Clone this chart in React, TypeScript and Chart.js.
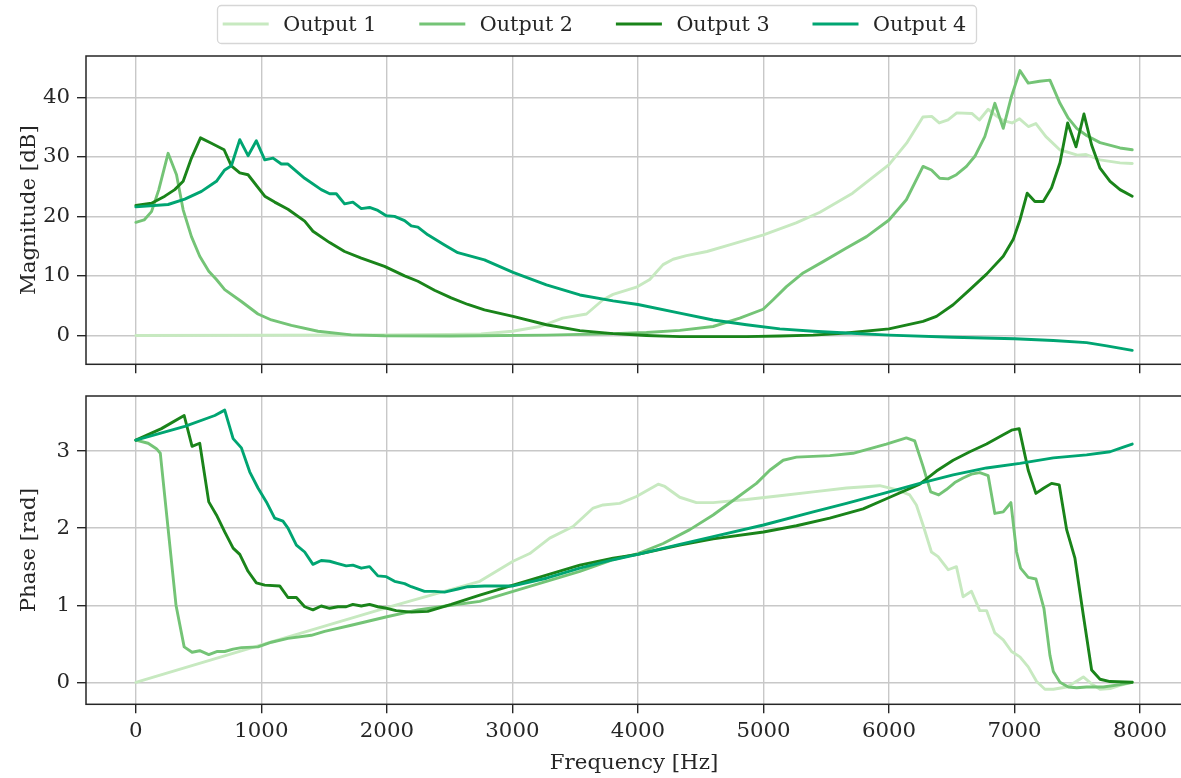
import React, { useEffect, useRef } from 'react';
import { Chart, registerables } from 'chart.js';

Chart.register(...registerables);

// ---------- DATA ----------
const seriesNames = ['Output 1', 'Output 2', 'Output 3', 'Output 4'];
const seriesColors = ['#c7e9c0', '#74c476', '#1a841a', '#00a572'];
const xTicks = [0, 1000, 2000, 3000, 4000, 5000, 6000, 7000, 8000];
const magTicks = [0, 10, 20, 30, 40];
const phaseTicks = [0, 1, 2, 3];

// Magnitude [dB]
const magFreq1 = [0, 1000, 2000, 2500, 2750, 3000, 3220, 3400, 3590, 3722, 3802, 3988, 4094, 4200, 4280, 4386, 4550, 4730, 5000, 5260, 5450, 5710, 6000, 6140, 6270, 6340, 6400, 6470, 6540, 6660, 6720, 6790, 6860, 6910, 6980, 7040, 7110, 7170, 7250, 7360, 7500, 7570, 7680, 7840, 7937.5];
const magOut1 = [0, 0.02, 0.1, 0.15, 0.25, 0.7, 1.5, 2.9, 3.6, 6.0, 6.9, 8.1, 9.4, 11.9, 12.8, 13.4, 14.1, 15.2, 16.9, 18.9, 20.7, 23.9, 28.7, 32.3, 36.7, 36.8, 35.7, 36.2, 37.4, 37.3, 36.2, 38.0, 36.8, 36.1, 35.7, 36.4, 35.1, 35.6, 33.4, 31.2, 30.3, 30.4, 29.5, 29.0, 28.9];

const magFreq2 = [0, 66, 125, 183, 257, 324, 377, 443, 509, 581, 642, 708, 841, 973, 1080, 1239, 1451, 1716, 1981, 2500, 2740, 3271, 3802, 4068, 4333, 4599, 4811, 4997, 5077, 5183, 5316, 5475, 5661, 5821, 6000, 6138, 6271, 6338, 6404, 6471, 6537, 6617, 6684, 6763, 6843, 6910, 6976, 7043, 7109, 7200, 7282, 7362, 7428, 7495, 7574, 7681, 7840, 7937.5];
const magOut2 = [19.0, 19.4, 20.8, 24.5, 30.6, 27.0, 21.1, 16.6, 13.3, 10.8, 9.4, 7.7, 5.7, 3.6, 2.6, 1.7, 0.7, 0.1, -0.05, -0.1, -0.05, 0.05, 0.3, 0.5, 0.85, 1.5, 2.9, 4.4, 6.0, 8.2, 10.5, 12.4, 14.7, 16.6, 19.4, 22.8, 28.4, 27.8, 26.4, 26.3, 27.0, 28.4, 30.1, 33.4, 39.0, 34.8, 40.2, 44.5, 42.4, 42.7, 42.9, 39.0, 36.5, 34.8, 33.6, 32.4, 31.5, 31.2];

const magFreq3 = [0, 125, 231, 310, 377, 443, 515, 602, 703, 761, 828, 894, 1027, 1106, 1212, 1345, 1411, 1544, 1663, 1796, 1981, 2141, 2247, 2379, 2512, 2645, 2777, 3005, 3271, 3537, 3802, 4068, 4333, 4600, 4865, 5130, 5396, 5661, 6000, 6271, 6378, 6511, 6644, 6777, 6910, 6989, 7043, 7101, 7162, 7229, 7295, 7362, 7423, 7490, 7553, 7614, 7681, 7761, 7840, 7937.5];
const magOut3 = [21.85, 22.2, 23.4, 24.5, 25.9, 29.8, 33.2, 32.3, 31.2, 28.5, 27.3, 27.0, 23.4, 22.4, 21.2, 19.2, 17.5, 15.6, 14.1, 13.0, 11.6, 10.0, 9.1, 7.6, 6.3, 5.2, 4.3, 3.2, 1.8, 0.8, 0.3, 0.0, -0.2, -0.2, -0.2, -0.1, 0.05, 0.4, 1.1, 2.35, 3.2, 5.15, 7.7, 10.3, 13.3, 16.1, 19.4, 23.9, 22.5, 22.5, 24.8, 29.0, 35.7, 31.7, 37.2, 32.0, 28.1, 25.9, 24.5, 23.4];

const magFreq4 = [0, 257, 390, 523, 642, 708, 761, 828, 894, 960, 1027, 1093, 1159, 1212, 1345, 1477, 1544, 1597, 1663, 1729, 1796, 1862, 1928, 1995, 2061, 2141, 2194, 2247, 2326, 2459, 2565, 2777, 3005, 3271, 3537, 3802, 4000, 4333, 4599, 4865, 5130, 5396, 5661, 6000, 6511, 7000, 7309, 7574, 7734, 7937.5];
const magOut4 = [21.6, 22.0, 22.9, 24.2, 25.9, 27.8, 28.5, 32.9, 30.2, 32.7, 29.5, 29.8, 28.8, 28.8, 26.4, 24.5, 23.8, 23.8, 22.1, 22.4, 21.3, 21.5, 21.0, 20.1, 20.0, 19.3, 18.4, 18.2, 16.9, 15.2, 13.9, 12.7, 10.6, 8.5, 6.8, 5.8, 5.2, 3.75, 2.6, 1.8, 1.1, 0.7, 0.4, 0.05, -0.3, -0.55, -0.85, -1.2, -1.75, -2.5];

// Phase [rad]
const phaseFreq1 = [0, 1000, 2000, 2500, 2740, 3005, 3138, 3297, 3483, 3643, 3722, 3855, 3988, 4161, 4214, 4333, 4466, 4599, 4865, 5130, 5396, 5661, 5926, 6059, 6165, 6218, 6271, 6338, 6391, 6471, 6537, 6590, 6657, 6723, 6777, 6843, 6910, 6976, 7043, 7109, 7176, 7242, 7309, 7415, 7481, 7548, 7614, 7681, 7761, 7840, 7937.5];
const phaseOut1 = [0, 0.485, 0.97, 1.2, 1.31, 1.57, 1.67, 1.87, 2.02, 2.26, 2.30, 2.32, 2.41, 2.57, 2.54, 2.40, 2.33, 2.33, 2.37, 2.42, 2.47, 2.52, 2.55, 2.50, 2.43, 2.30, 2.04, 1.69, 1.63, 1.46, 1.50, 1.11, 1.18, 0.93, 0.93, 0.64, 0.55, 0.40, 0.33, 0.20, 0.01, -0.09, -0.09, -0.06, 0.0, 0.07, -0.02, -0.09, -0.08, -0.04, 0.0];

const phaseFreq2 = [0, 98, 164, 195, 320, 385, 448, 509, 581, 650, 708, 775, 841, 973, 1080, 1212, 1398, 1504, 1716, 2000, 2247, 2512, 2740, 3005, 3271, 3537, 3802, 4000, 4201, 4413, 4599, 4785, 4944, 5050, 5157, 5263, 5528, 5713, 5979, 6138, 6205, 6271, 6332, 6396, 6457, 6524, 6590, 6657, 6723, 6790, 6843, 6910, 6971, 7016, 7048, 7109, 7170, 7234, 7282, 7309, 7362, 7428, 7495, 7574, 7707, 7840, 7937.5];
const phaseOut2 = [3.14, 3.10, 3.03, 2.97, 1.0, 0.46, 0.39, 0.41, 0.36, 0.40, 0.40, 0.43, 0.45, 0.46, 0.52, 0.57, 0.61, 0.66, 0.74, 0.85, 0.94, 1.0, 1.05, 1.18, 1.31, 1.44, 1.59, 1.67, 1.80, 1.98, 2.17, 2.39, 2.58, 2.75, 2.88, 2.92, 2.94, 2.97, 3.09, 3.17, 3.13, 2.80, 2.47, 2.43, 2.50, 2.59, 2.65, 2.70, 2.72, 2.68, 2.19, 2.21, 2.33, 1.69, 1.48, 1.36, 1.34, 0.96, 0.35, 0.14, 0.0, -0.06, -0.07, -0.06, -0.06, -0.03, 0.0];

const phaseFreq3 = [0, 204, 385, 448, 509, 581, 642, 708, 775, 828, 894, 960, 1027, 1146, 1212, 1279, 1345, 1411, 1477, 1544, 1610, 1676, 1729, 1796, 1862, 1928, 2000, 2074, 2194, 2326, 2512, 2740, 3005, 3271, 3537, 3802, 3999, 4333, 4599, 5000, 5263, 5528, 5794, 5979, 6245, 6378, 6511, 6644, 6777, 6910, 6976, 7037, 7109, 7170, 7234, 7295, 7356, 7415, 7481, 7548, 7614, 7681, 7761, 7937.5];
const phaseOut3 = [3.14, 3.29, 3.46, 3.06, 3.10, 2.34, 2.17, 1.95, 1.74, 1.66, 1.44, 1.29, 1.26, 1.25, 1.10, 1.10, 0.98, 0.94, 0.99, 0.96, 0.98, 0.98, 1.01, 0.99, 1.01, 0.98, 0.96, 0.93, 0.91, 0.92, 1.01, 1.13, 1.26, 1.39, 1.52, 1.61, 1.66, 1.78, 1.86, 1.95, 2.03, 2.13, 2.25, 2.38, 2.57, 2.74, 2.88, 2.99, 3.09, 3.21, 3.27, 3.29, 2.75, 2.45, 2.52, 2.58, 2.56, 1.98, 1.61, 0.87, 0.16, 0.04, 0.01, 0.0];

const phaseFreq4 = [0, 390, 629, 708, 775, 841, 907, 973, 1040, 1106, 1172, 1212, 1279, 1345, 1411, 1477, 1544, 1610, 1676, 1729, 1796, 1862, 1928, 1995, 2061, 2141, 2194, 2300, 2379, 2459, 2565, 2645, 2777, 3005, 3271, 3537, 3802, 3999, 4333, 4599, 5000, 5396, 5661, 5979, 6245, 6511, 6777, 7043, 7309, 7574, 7761, 7867, 7937.5];
const phaseOut4 = [3.14, 3.32, 3.46, 3.53, 3.16, 3.04, 2.73, 2.52, 2.34, 2.13, 2.09, 2.0, 1.78, 1.69, 1.53, 1.58, 1.57, 1.54, 1.51, 1.52, 1.48, 1.50, 1.38, 1.37, 1.31, 1.28, 1.24, 1.18, 1.18, 1.17, 1.21, 1.24, 1.25, 1.25, 1.35, 1.48, 1.59, 1.66, 1.79, 1.89, 2.04, 2.21, 2.32, 2.46, 2.58, 2.69, 2.78, 2.84, 2.91, 2.95, 2.99, 3.05, 3.09];

const magFreqs = [magFreq1, magFreq2, magFreq3, magFreq4];
const magValues = [magOut1, magOut2, magOut3, magOut4];
const phaseFreqs = [phaseFreq1, phaseFreq2, phaseFreq3, phaseFreq4];
const phaseValues = [phaseOut1, phaseOut2, phaseOut3, phaseOut4];

// ---------- STYLE ----------
const FONT_FAMILY = "'DejaVu Serif', serif";
const FONT_SIZE = 21.3;
const LEGEND_FONT_SIZE = 20.7;
const TEXT_COLOR = '#262626';
const GRID_COLOR = '#c8c8c8';
const LINE_WIDTH = 2.9;
const CANVAS_W = 1190;
const X_MIN = -397;
const X_MAX = 8334;

function makeDatasets(freqs: number[][], values: number[][]) {
  return seriesNames.map((name, i) => ({
    label: name,
    data: freqs[i].map((f, j) => ({ x: f, y: values[i][j] })),
    borderColor: seriesColors[i],
    backgroundColor: seriesColors[i],
    borderWidth: LINE_WIDTH,
    pointRadius: 0,
    tension: 0,
    fill: false,
    order: 3 - i,
    borderJoinStyle: 'round' as const,
    borderCapStyle: 'round' as const,
  }));
}

const framePlugin = {
  id: 'mplFrame',
  afterDatasetsDraw(chart: any) {
    const { ctx, chartArea: a } = chart;
    ctx.save();
    ctx.strokeStyle = TEXT_COLOR;
    ctx.lineWidth = 1.5;
    ctx.strokeRect(a.left, a.top, a.right - a.left, a.bottom - a.top);
    ctx.restore();
  },
};

const legendPlugin = {
  id: 'mplLegend',
  afterDraw(chart: any) {
    const ctx = chart.ctx;
    ctx.save();
    const bx = 217.5, by = 5.5, bw = 759, bh = 38, r = 4;
    ctx.beginPath();
    ctx.moveTo(bx + r, by);
    ctx.lineTo(bx + bw - r, by);
    ctx.arcTo(bx + bw, by, bx + bw, by + r, r);
    ctx.lineTo(bx + bw, by + bh - r);
    ctx.arcTo(bx + bw, by + bh, bx + bw - r, by + bh, r);
    ctx.lineTo(bx + r, by + bh);
    ctx.arcTo(bx, by + bh, bx, by + bh - r, r);
    ctx.lineTo(bx, by + r);
    ctx.arcTo(bx, by, bx + r, by, r);
    ctx.closePath();
    ctx.fillStyle = 'rgba(255,255,255,0.8)';
    ctx.fill();
    ctx.strokeStyle = '#d6d6d6';
    ctx.lineWidth = 1.3;
    ctx.stroke();
    ctx.font = `${LEGEND_FONT_SIZE}px ${FONT_FAMILY}`;
    ctx.textBaseline = 'alphabetic';
    ctx.textAlign = 'left';
    seriesNames.forEach((name, i) => {
      const x0 = 222.7 + i * 196.6;
      ctx.beginPath();
      ctx.moveTo(x0, 24);
      ctx.lineTo(x0 + 46, 24);
      ctx.strokeStyle = seriesColors[i];
      ctx.lineWidth = LINE_WIDTH;
      ctx.stroke();
      ctx.fillStyle = TEXT_COLOR;
      ctx.fillText(name, x0 + 60.5, 31.3);
    });
    ctx.restore();
  },
};

const gridOpts = {
  color: GRID_COLOR,
  lineWidth: 1.4,
  tickColor: TEXT_COLOR,
  tickLength: 9,
  tickWidth: 1.4,
  drawTicks: true,
};

function setTicks(values: number[]) {
  return (scale: any) => {
    scale.ticks = values.map((v) => ({ value: v }));
  };
}

const plainLabel = (v: any) => String(v);
const tickFont = { family: FONT_FAMILY, size: FONT_SIZE };

function MagChart() {
  const ref = useRef<HTMLCanvasElement>(null);
  useEffect(() => {
    if (!ref.current) return;
    const chart = new Chart(ref.current, {
      type: 'line',
      data: { datasets: makeDatasets(magFreqs, magValues) as any },
      options: {
        animation: false,
        responsive: false,
        events: [],
        layout: { padding: { top: 56, left: 0, right: CANVAS_W - 1182, bottom: 0 } },
        plugins: { legend: { display: false }, tooltip: { enabled: false } },
        scales: {
          x: {
            type: 'linear',
            min: X_MIN,
            max: X_MAX,
            afterBuildTicks: setTicks(xTicks),
            afterFit: (s: any) => { s.height = 390 - 364.3; },
            ticks: { display: false },
            grid: gridOpts,
            border: { display: false },
          },
          y: {
            type: 'linear',
            min: -4.85,
            max: 46.95,
            afterBuildTicks: setTicks(magTicks),
            afterFit: (s: any) => { s.width = 86; },
            ticks: { font: tickFont, color: TEXT_COLOR, padding: 7, callback: plainLabel },
            grid: gridOpts,
            border: { display: false },
            title: {
              display: true,
              text: 'Magnitude [dB]',
              font: tickFont,
              color: TEXT_COLOR,
              padding: { top: 16.2, bottom: 0 },
            },
          },
        },
      } as any,
      plugins: [framePlugin, legendPlugin],
    });
    return () => chart.destroy();
  }, []);
  return (
    <canvas
      ref={ref}
      width={CANVAS_W}
      height={390}
      style={{ position: 'absolute', left: 0, top: 0, width: CANVAS_W, height: 390 }}
    />
  );
}

function PhaseChart() {
  const ref = useRef<HTMLCanvasElement>(null);
  useEffect(() => {
    if (!ref.current) return;
    const chart = new Chart(ref.current, {
      type: 'line',
      data: { datasets: makeDatasets(phaseFreqs, phaseValues) as any },
      options: {
        animation: false,
        responsive: false,
        events: [],
        layout: { padding: { top: 396, left: 0, right: CANVAS_W - 1182, bottom: 0 } },
        plugins: { legend: { display: false }, tooltip: { enabled: false } },
        scales: {
          x: {
            type: 'linear',
            min: X_MIN,
            max: X_MAX,
            afterBuildTicks: setTicks(xTicks),
            afterFit: (s: any) => { s.height = 778 - 704.3; },
            ticks: { font: tickFont, color: TEXT_COLOR, padding: 5.4, maxRotation: 0, callback: plainLabel },
            grid: gridOpts,
            border: { display: false },
            title: {
              display: true,
              text: 'Frequency [Hz]',
              font: tickFont,
              color: TEXT_COLOR,
              padding: { top: 0, bottom: 2.2 },
            },
          },
          y: {
            type: 'linear',
            min: -0.285,
            max: 3.713,
            afterBuildTicks: setTicks(phaseTicks),
            afterFit: (s: any) => { s.width = 86; },
            ticks: { font: tickFont, color: TEXT_COLOR, padding: 7, callback: plainLabel },
            grid: gridOpts,
            border: { display: false },
            title: {
              display: true,
              text: 'Phase [rad]',
              font: tickFont,
              color: TEXT_COLOR,
              padding: { top: 16.2, bottom: 0 },
            },
          },
        },
      } as any,
      plugins: [framePlugin],
    });
    return () => chart.destroy();
  }, []);
  return (
    <canvas
      ref={ref}
      width={CANVAS_W}
      height={778}
      style={{ position: 'absolute', left: 0, top: 0, width: CANVAS_W, height: 778 }}
    />
  );
}

export default function App() {
  return (
    <div
      style={{
        position: 'absolute',
        left: 0,
        top: 0,
        width: 1181,
        height: 778,
        overflow: 'hidden',
        background: '#ffffff',
      }}
    >
      <PhaseChart />
      <MagChart />
    </div>
  );
}
